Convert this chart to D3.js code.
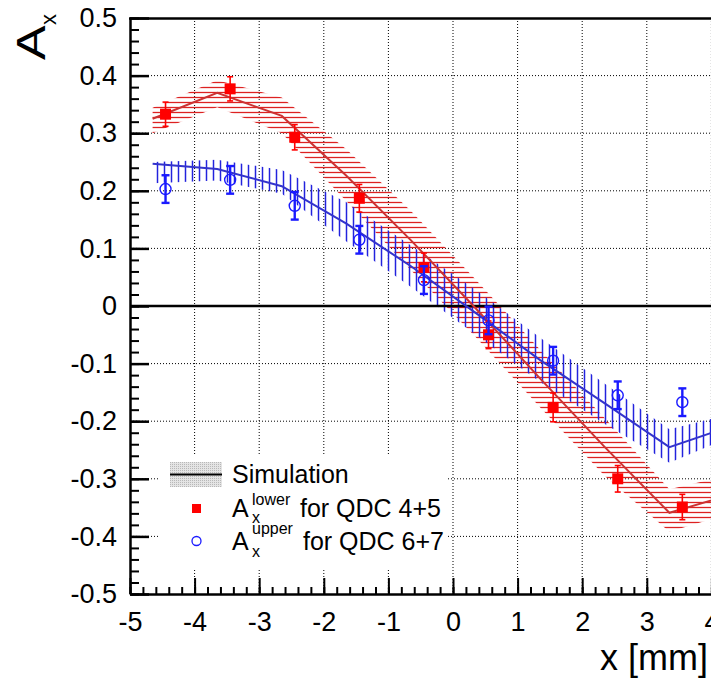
<!DOCTYPE html>
<html>
<head>
<meta charset="utf-8">
<script src="https://cdn.jsdelivr.net/npm/d3@7"></script>
<style>
  body { margin: 0; background: #fff; }
  svg { display: block; font-family: "Liberation Sans", Arial, sans-serif; }
</style>
</head>
<body>
<svg id="chart" width="711" height="680"></svg>
<script>
//
// Data
//

// measured points, x in mm
var dataX = [-4.45, -3.45, -2.45, -1.45, -0.45, 0.55, 1.55, 2.55, 3.55]
// A_x lower, QDC 4+5
var lowerY = [0.333, 0.377, 0.293, 0.187, 0.067, -0.050, -0.176, -0.300, -0.349]
var lowerErr = [0.021, 0.021, 0.022, 0.024, 0.025, 0.024, 0.025, 0.023, 0.022]
// A_x upper, QDC 6+7
var upperY = [0.203, 0.219, 0.174, 0.115, 0.045, -0.025, -0.095, -0.155, -0.167]
var upperErr = [0.024, 0.024, 0.024, 0.024, 0.024, 0.024, 0.024, 0.024, 0.024]

// simulation curves and bands
var simX = [-4.65, -3.65, -2.65, -1.65, -0.65, 0.35, 1.35, 2.35, 3.35, 4.35]
var simLower = [0.325, 0.370, 0.330, 0.226, 0.114, -0.004, -0.126, -0.245, -0.359, -0.326]
var simLowerHi = [0.344, 0.392, 0.362, 0.272, 0.165, 0.046, -0.076, -0.195, -0.318, -0.292]
var simLowerLo = [0.300, 0.345, 0.300, 0.182, 0.062, -0.054, -0.176, -0.295, -0.392, -0.358]
var simUpper = [0.247, 0.238, 0.208, 0.143, 0.069, -0.012, -0.094, -0.169, -0.245, -0.207]
var simUpperHi = [0.250, 0.254, 0.236, 0.180, 0.105, 0.028, -0.055, -0.135, -0.214, -0.186]
var simUpperLo = [0.213, 0.218, 0.195, 0.112, 0.033, -0.050, -0.132, -0.205, -0.272, -0.225]

// axis ticks
var xTicks = [-5, -4, -3, -2, -1, 0, 1, 2, 3, 4, 5]
var yTicks = [-0.5, -0.4, -0.3, -0.2, -0.1, 0, 0.1, 0.2, 0.3, 0.4, 0.5]

//
// Setup
//

var colRed = '#ff0000'
var colRedLine = '#cc3333'
var colBlue = '#1a1aff'
var colBlueLine = '#3333cc'

var svg = d3.select('#chart')
var x = d3.scaleLinear().domain([-5, 5]).range([130, 776])
var y = d3.scaleLinear().domain([-0.5, 0.5]).range([594, 18])

var defs = svg.append('defs')
defs.append('clipPath').attr('id', 'frame')
  .append('rect').attr('x', 130).attr('y', 18).attr('width', 646).attr('height', 576)

var pRed = defs.append('pattern').attr('id', 'hatchRed')
  .attr('patternUnits', 'userSpaceOnUse').attr('width', 10).attr('height', 5)
pRed.append('line').attr('x1', 0).attr('x2', 10).attr('y1', 2.5).attr('y2', 2.5)
  .attr('stroke', '#dd2222').attr('stroke-width', 1.3)

var pBlue = defs.append('pattern').attr('id', 'hatchBlue')
  .attr('patternUnits', 'userSpaceOnUse').attr('width', 7).attr('height', 10)
pBlue.append('line').attr('x1', 3.5).attr('x2', 3.5).attr('y1', 0).attr('y2', 10)
  .attr('stroke', '#2222dd').attr('stroke-width', 1.5)

var pGray = defs.append('pattern').attr('id', 'dotsGray')
  .attr('patternUnits', 'userSpaceOnUse').attr('width', 2).attr('height', 2)
pGray.append('rect').attr('width', 2).attr('height', 2).attr('fill', '#e4e4e4')
pGray.append('rect').attr('width', 1).attr('height', 1).attr('fill', '#b8b8b8')

var plot = svg.append('g').attr('clip-path', 'url(#frame)')

//
// Grid
//

plot.selectAll('.gx').data(xTicks.filter(function(d) { return d > -5 && d < 5 }))
  .enter().append('line')
  .attr('x1', function(d) { return x(d) }).attr('x2', function(d) { return x(d) })
  .attr('y1', y(0.5)).attr('y2', y(-0.5))
  .attr('stroke', '#000').attr('stroke-width', 1).attr('stroke-dasharray', '1,2')

plot.selectAll('.gy').data(yTicks.filter(function(d) { return Math.abs(d) > 0.01 && Math.abs(d) < 0.45 }))
  .enter().append('line')
  .attr('x1', x(-5)).attr('x2', x(5))
  .attr('y1', function(d) { return y(d) }).attr('y2', function(d) { return y(d) })
  .attr('stroke', '#000').attr('stroke-width', 1).attr('stroke-dasharray', '1,2')

//
// Simulation bands and lines
//

function band(hi, lo) {
  return d3.area()
    .x(function(d, i) { return x(simX[i]) })
    .y0(function(d, i) { return y(lo[i]) })
    .y1(function(d, i) { return y(hi[i]) })(simX)
}

function curve(vals) {
  return d3.line()
    .x(function(d, i) { return x(simX[i]) })
    .y(function(d, i) { return y(vals[i]) })(simX)
}

plot.append('path').attr('d', band(simLowerHi, simLowerLo)).attr('fill', 'url(#hatchRed)')
plot.append('path').attr('d', band(simUpperHi, simUpperLo)).attr('fill', 'url(#hatchBlue)')

plot.append('line').attr('x1', x(-5)).attr('x2', x(5)).attr('y1', y(0)).attr('y2', y(0))
  .attr('stroke', '#000').attr('stroke-width', 2.5)

plot.append('path').attr('d', curve(simLower)).attr('fill', 'none')
  .attr('stroke', colRedLine).attr('stroke-width', 2)
plot.append('path').attr('d', curve(simUpper)).attr('fill', 'none')
  .attr('stroke', colBlueLine).attr('stroke-width', 2)

//
// Measured points with error bars
//

function errorBars(vals, errs, color, width, cap) {
  var g = plot.append('g').attr('stroke', color).attr('stroke-width', width)
  dataX.forEach(function(d, i) {
    var cx = x(d), top = y(vals[i] + errs[i]), bot = y(vals[i] - errs[i])
    g.append('line').attr('x1', cx).attr('x2', cx).attr('y1', top).attr('y2', bot)
    g.append('line').attr('x1', cx - cap).attr('x2', cx + cap).attr('y1', top).attr('y2', top)
    g.append('line').attr('x1', cx - cap).attr('x2', cx + cap).attr('y1', bot).attr('y2', bot)
  })
}

errorBars(lowerY, lowerErr, colRed, 1.6, 3)
plot.selectAll('.sq').data(dataX).enter().append('rect')
  .attr('x', function(d) { return x(d) - 5.5 })
  .attr('y', function(d, i) { return y(lowerY[i]) - 5.5 })
  .attr('width', 11).attr('height', 11).attr('fill', colRed)

errorBars(upperY, upperErr, colBlue, 2.4, 4)
plot.selectAll('.ci').data(dataX).enter().append('circle')
  .attr('cx', function(d) { return x(d) })
  .attr('cy', function(d, i) { return y(upperY[i]) })
  .attr('r', 5.5).attr('fill', 'none').attr('stroke', colBlue).attr('stroke-width', 1.4)

//
// Axes
//

function fmt(d) { return String(Math.round(d * 10) / 10) }

var yMinor = d3.range(-0.5, 0.5001, 0.02)
svg.append('g').attr('transform', 'translate(130,0)')
  .call(d3.axisLeft(y).tickValues(yMinor).tickSizeInner(-9).tickSizeOuter(0).tickFormat(''))
  .call(function(g) { g.select('.domain').remove(); g.selectAll('line').attr('stroke-width', 2) })
svg.append('g').attr('transform', 'translate(130,0)')
  .call(d3.axisLeft(y).tickValues(yTicks).tickSizeInner(-19).tickSizeOuter(0).tickPadding(13).tickFormat(fmt))
  .call(function(g) {
    g.select('.domain').attr('stroke-width', 2.5)
    g.selectAll('line').attr('stroke-width', 2.5)
    g.selectAll('text').attr('font-size', 27).attr('fill', '#000')
      .style('font-family', '"Liberation Sans", Arial, sans-serif')
  })

var xMinor = d3.range(-5, 5.001, 0.2)
svg.append('g').attr('transform', 'translate(0,594)')
  .call(d3.axisBottom(x).tickValues(xMinor).tickSizeInner(-7).tickSizeOuter(0).tickFormat(''))
  .call(function(g) { g.select('.domain').remove(); g.selectAll('line').attr('stroke-width', 2) })
svg.append('g').attr('transform', 'translate(0,594)')
  .call(d3.axisBottom(x).tickValues(xTicks).tickSizeInner(-16).tickSizeOuter(0).tickPadding(18).tickFormat(fmt))
  .call(function(g) {
    g.select('.domain').attr('stroke-width', 2.5)
    g.selectAll('line').attr('stroke-width', 2)
    g.selectAll('text').attr('font-size', 27).attr('fill', '#000')
      .style('font-family', '"Liberation Sans", Arial, sans-serif')
  })

// top frame line
svg.append('line').attr('x1', 129).attr('x2', 776).attr('y1', 18.5).attr('y2', 18.5)
  .attr('stroke', '#000').attr('stroke-width', 2.5)

// axis titles
var yt = svg.append('g').attr('transform', 'translate(45,60) rotate(-90)')
yt.append('text').attr('x', 0).attr('y', 0).attr('font-size', 40)
  .attr('transform', 'scale(1.3,1)').text('A')
yt.append('text').attr('x', 35).attr('y', 11).attr('font-size', 22).text('x')

svg.append('text').attr('x', 708).attr('y', 670).attr('text-anchor', 'end')
  .attr('font-size', 36).text('x [mm]')

//
// Legend
//

var lg = svg.append('g')
lg.append('rect').attr('x', 160).attr('y', 455).attr('width', 288).attr('height', 115).attr('fill', '#fff')
lg.append('rect').attr('x', 170).attr('y', 462).attr('width', 52).attr('height', 25).attr('fill', 'url(#dotsGray)')
lg.append('line').attr('x1', 170).attr('x2', 222).attr('y1', 474.5).attr('y2', 474.5)
  .attr('stroke', '#000').attr('stroke-width', 2)
lg.append('text').attr('x', 232).attr('y', 483).attr('font-size', 25).text('Simulation')

lg.append('rect').attr('x', 192).attr('y', 504).attr('width', 9).attr('height', 9).attr('fill', colRed)
lg.append('text').attr('x', 232).attr('y', 517).attr('font-size', 25).text('A')
lg.append('text').attr('x', 252).attr('y', 505).attr('font-size', 16).text('lower')
lg.append('text').attr('x', 252).attr('y', 523).attr('font-size', 16).text('x')
lg.append('text').attr('x', 300).attr('y', 517).attr('font-size', 25).text('for QDC 4+5')

lg.append('circle').attr('cx', 196.5).attr('cy', 541).attr('r', 4.5)
  .attr('fill', 'none').attr('stroke', colBlue).attr('stroke-width', 1.3)
lg.append('text').attr('x', 232).attr('y', 550).attr('font-size', 25).text('A')
lg.append('text').attr('x', 252).attr('y', 534).attr('font-size', 16).text('upper')
lg.append('text').attr('x', 252).attr('y', 557).attr('font-size', 16).text('x')
lg.append('text').attr('x', 303).attr('y', 550).attr('font-size', 25).text('for QDC 6+7')
</script>
</body>
</html>
